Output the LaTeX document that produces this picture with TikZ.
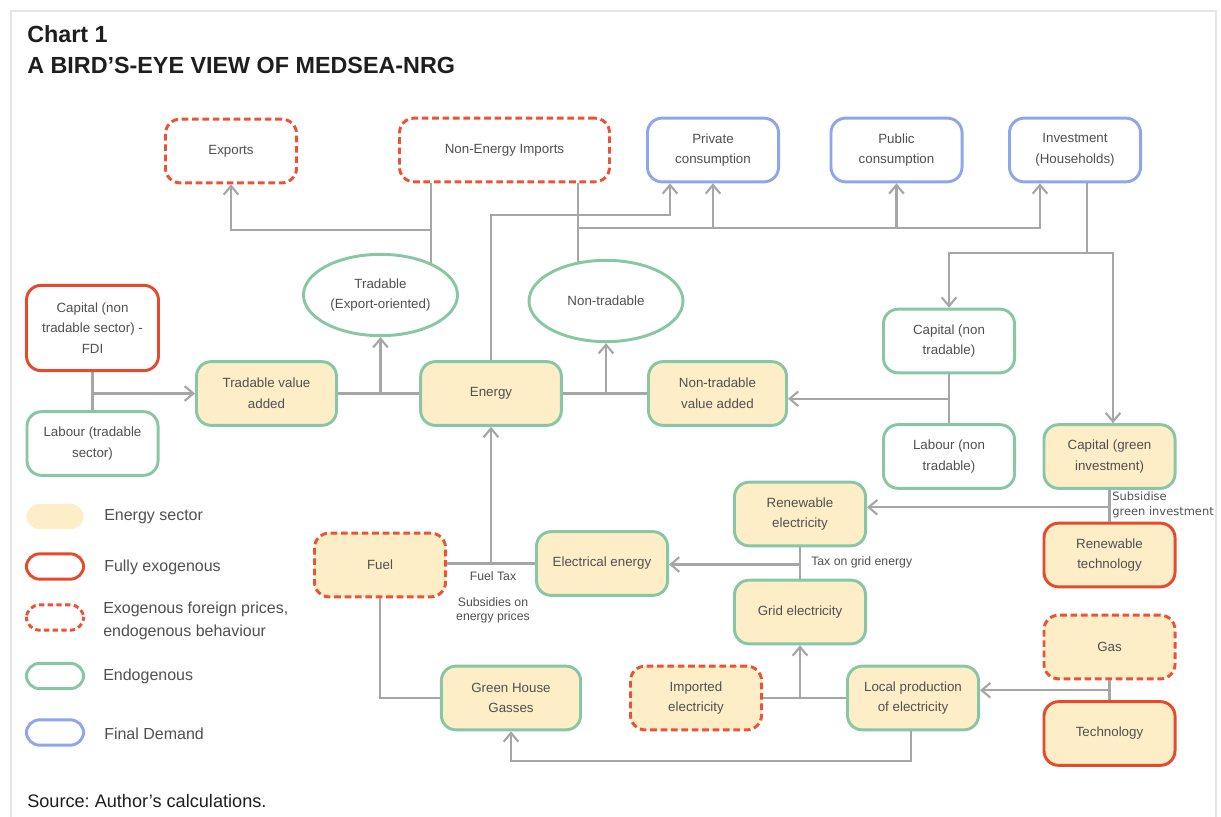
\documentclass[tikz,border=0pt]{standalone}
\usepackage{fontspec}
\setmainfont{Liberation Sans}
\newfontfamily\dejavu{DejaVu Sans}
\usetikzlibrary{arrows.meta,calc,shapes.geometric}
\definecolor{lgray}{HTML}{A6A6A6}
\definecolor{framec}{HTML}{E6E6E6}
\definecolor{redc}{HTML}{E64A2B}
\definecolor{redd}{HTML}{EE5234}
\definecolor{greenc}{HTML}{88C6A4}
\definecolor{bluec}{HTML}{8EA6EC}
\definecolor{fillc}{HTML}{FDEEC8}
\definecolor{txt}{HTML}{505050}
\definecolor{ttl}{HTML}{1E1E1E}
\pgfdeclarelayer{bg}
\pgfsetlayers{bg,main}
\frenchspacing
\begin{document}
\begin{tikzpicture}[x=0.75pt,y=-0.75pt,
  base/.style={rounded corners=11pt, line width=2.2pt, align=center,
    font=\fontsize{10}{15.5}\selectfont, text=txt,
    minimum width=98.3pt, minimum height=47.8pt, inner sep=2pt},
  exo/.style={base, draw=redd, dash pattern=on 5pt off 2.8pt, fill=white},
  exof/.style={exo, fill=fillc},
  full/.style={base, draw=redc, fill=white},
  fullf/.style={full, fill=fillc},
  endo/.style={base, draw=greenc, fill=white},
  endof/.style={endo, fill=fillc},
  fd/.style={base, draw=bluec, fill=white},
  ell/.style={ellipse, draw=greenc, line width=2.2pt, fill=white, inner sep=0pt,
    minimum width=115.5pt, minimum height=61pt, align=center,
    font=\fontsize{10}{15.5}\selectfont, text=txt},
  ln/.style={draw=lgray, line width=1.6pt},
  arr/.style={ln, -{Straight Barb[length=6.5pt,width=11pt]}},
  lbl/.style={font=\fontsize{9.2}{10.5}\selectfont, text=txt, inner sep=0pt, align=center},
  legsw/.style={rounded corners=10pt, line width=2.2pt, minimum width=43pt, minimum height=19pt, inner sep=0pt},
  legtx/.style={anchor=west, font=\fontsize{12}{17.2}\selectfont, text=txt, align=left, inner sep=0pt}
]
\useasboundingbox (0,0) rectangle (1221,817);
\draw[framec, line width=2.2pt] (11,11) rectangle (1216,845);

% titles
\node[anchor=base west, inner sep=0pt, font=\bfseries\fontsize{17.5}{20}\selectfont, text=ttl] (t1) at (27,43) {Chart 1};
\node[anchor=base west, inner sep=0pt, font=\bfseries\fontsize{17.5}{20}\selectfont, text=ttl] (t2) at (27,74) {A BIRD’S-EYE VIEW OF MEDSEA-NRG};
\node[anchor=base west, inner sep=0pt, font=\fontsize{13.6}{16}\selectfont, text=ttl] (src) at (27,807) {Source: Author’s calculations.};

% top row
\node[exo] (exp) at (231,151) {Exports};
\node[exo, minimum width=157.5pt] (nei) at (504.5,150) {Non-Energy Imports};
\node[fd] (pc) at (713,150) {Private\\consumption};
\node[fd] (pub) at (896.5,150) {Public\\consumption};
\node[fd] (inv) at (1075,150) {Investment\\(Households)};

% ellipses
\node[ell] (trd) at (380.5,295) {Tradable\\(Export-oriented)};
\node[ell] (ntr) at (606,301) {Non-tradable};

% middle row
\node[full, minimum width=99pt, minimum height=64pt] (cfdi) at (92.5,328) {Capital (non\\tradable sector) -\\FDI};
\node[endo] (ltr) at (92.5,443.5) {Labour (tradable\\sector)};
\node[endof, minimum width=105pt] (tva) at (266.5,393.5) {Tradable value\\added};
\node[endof, minimum width=105.5pt] (en) at (491,393.5) {Energy};
\node[endof, minimum width=103.5pt] (nva) at (717.5,393.5) {Non-tradable\\value added};
\node[endo] (cnt) at (949,341) {Capital (non\\tradable)};
\node[endo] (lnt) at (949,456.5) {Labour (non\\tradable)};
\node[endof] (cgi) at (1109.5,456.5) {Capital (green\\investment)};

% lower part
\node[endof] (rel) at (800,514) {Renewable\\electricity};
\node[fullf] (rtech) at (1109.5,555) {Renewable\\technology};
\node[exof] (fuel) at (380,565) {Fuel};
\node[endof] (ee) at (602,563.5) {Electrical energy};
\node[endof] (grid) at (800,612) {Grid electricity};
\node[exof] (gas) at (1109.5,647) {Gas};
\node[fullf] (tech) at (1109.5,733.5) {Technology};
\node[endof, minimum width=104.5pt] (ghg) at (511,698) {Green House\\Gasses};
\node[exof] (iel) at (696,698) {Imported\\electricity};
\node[endof] (lpe) at (913,698) {Local production\\of electricity};

% junction coordinates
\coordinate (jA) at (431,230);
\coordinate (jB) at (578,228);
\coordinate (jE) at (1087,253);

\begin{pgfonlayer}{bg}
  \draw[ln] (nei.south -| jA) -- (trd.center -| jA);
  \draw[ln] (nei.south -| jB) -- (ntr.center -| jB);
\end{pgfonlayer}

% connectors: tradable / non-tradable to final demand
\draw[arr] (jA) -| (exp.south);
\draw[arr] (jB) -| ($(inv.south)+(-35,0)$);
\draw[arr] (jB -| pc.south) -- (pc.south);
\draw[arr] (jB -| pub.south) -- (pub.south);
\draw[arr] (en.north) |- ($(pc.south)+(-43,32)$) -- ($(pc.south)+(-43,0)$);

% value added row
\draw[ln] (tva.east) -- (en.west);
\draw[arr] (tva.east -| trd.south) -- (trd.south);
\draw[ln] (en.east) -- (nva.west);
\draw[arr] (en.east -| ntr.south) -- (ntr.south);

% factors
\draw[ln] (cfdi.south) -- (ltr.north);
\draw[arr] (cfdi.south |- tva.west) -- (tva.west);
\draw[ln] (cnt.south) -- (lnt.north);
\coordinate (jD) at ($(cnt.south)!0.5!(lnt.north)$);
\draw[arr] (jD) -- (jD -| nva.east);

% investment
\draw[ln] (inv.south -| jE) -- (jE);
\draw[arr] (jE) -| (cnt.north);
\draw[arr] (jE) -| ($(cgi.north)+(3.5,0)$);

% green investment
\draw[ln] (cgi.south) -- (rtech.north);
\coordinate (jF) at ($(cgi.south)!0.5!(rtech.north)+(0,1.5)$);
\draw[arr] (jF) -- (jF -| rel.east);
\node[anchor=north west, inner sep=0pt, align=left, text=txt, font=\dejavu\fontsize{8.6}{11.2}\selectfont] (lsub) at (1112,492) {Subsidise\\green investment};

% grid
\draw[ln] (rel.south) -- (grid.north);
\coordinate (jG) at ($(rel.south)!0.5!(grid.north)+(0,1.5)$);
\draw[arr] (jG) -- (jG -| ee.east);
\node[lbl, anchor=west] (ltax) at (811,562) {Tax on grid energy};

% fuel / electrical energy to energy
\draw[ln] (fuel.east |- ee.west) -- (ee.west);
\draw[arr] (en.south |- ee.west) -- (en.south);
\node[lbl] (lft) at (493,576) {Fuel Tax};
\node[lbl] (lsp) at (493,610) {Subsidies on\\energy prices};

% emissions
\draw[ln] (fuel.south) |- (ghg.west);
\draw[arr] ($(lpe.south)+(-2,0)$) |- ($(ghg.south)+(0,30)$) -- (ghg.south);

% electricity supply
\draw[ln] (iel.east) -- (lpe.west);
\draw[arr] (grid.south |- iel.east) -- (grid.south);
\draw[ln] (gas.south) -- (tech.north);
\coordinate (jH) at ($(gas.south)!0.5!(tech.north)$);
\draw[arr] (jH) -- (jH -| lpe.east);

% legend
\node[legsw, fill=fillc] (s1) at (55,516.5) {};
\node[legtx] (x1) at (104,517) {Energy sector};
\node[legsw, draw=redc, fill=white] (s2) at (55,566.5) {};
\node[legtx] (x2) at (104,567) {Fully exogenous};
\node[legsw, draw=redd, fill=white, dash pattern=on 4pt off 2.5pt] (s3) at (55,617.5) {};
\node[legtx] (x3) at (103,621) {Exogenous foreign prices,\\endogenous behaviour};
\node[legsw, draw=greenc, fill=white] (s4) at (55,676) {};
\node[legtx] (x4) at (103,676) {Endogenous};
\node[legsw, draw=bluec, fill=white] (s5) at (55,732.5) {};
\node[legtx] (x5) at (104,734) {Final Demand};
\end{tikzpicture}
\end{document}
